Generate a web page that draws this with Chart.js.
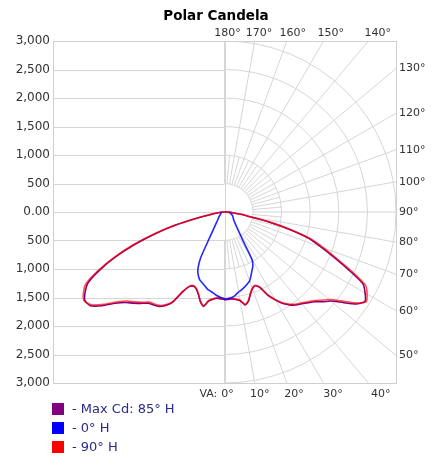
<!DOCTYPE html>
<html>
<head>
<meta charset="utf-8">
<script src="https://cdn.jsdelivr.net/npm/chart.js@4.4.1/dist/chart.umd.min.js"></script>
<style>
  html, body { margin: 0; padding: 0; background: #fff; }
</style>
</head>
<body>
<canvas id="polar" width="432" height="456"></canvas>
<script>
// vertical angles (deg, 0 = nadir)
const vAngles = [0, 2.5, 5, 7.5, 10, 12.5, 15, 17.5, 20, 22.5, 25, 27.5, 30, 32.5, 35, 37.5, 40, 42.5, 45,
  47.5, 50, 52.5, 55, 57.5, 60, 62.5, 65, 67.5, 70, 72.5, 75, 77.5, 80, 82.5, 85, 87.5, 90];

// candela, right half = plane named in legend, left half = opposite plane
const cdMax85 = [1540, 1535, 1530, 1550, 1580, 1670, 1620, 1510, 1430, 1400, 1460, 1650, 1785, 1905, 1990, 2055, 2100, 2160, 2225,
  2330, 2430, 2610, 2815, 2915, 2840, 2730, 2390, 2070, 1800, 1560, 1170, 785, 405, 265, 140, 50, 0];
const cdMax265 = [1530, 1525, 1520, 1545, 1585, 1695, 1630, 1520, 1440, 1410, 1440, 1575, 1835, 1950, 2020, 2050, 2090, 2175, 2260,
  2350, 2490, 2700, 2865, 2895, 2815, 2690, 2410, 2070, 1690, 1280, 885, 485, 230, 130, 60, 25, 0];
const cd0 = [1530, 1520, 1505, 1470, 1425, 1395, 1360, 1325, 1285, 1210, 1135, 1075, 960, 620, 470, 380, 320, 280, 250,
  225, 210, 195, 185, 178, 172, 165, 155, 145, 135, 125, 115, 108, 100, 95, 92, 90, 88];
const cd180 = [1525, 1500, 1475, 1440, 1410, 1385, 1340, 1300, 1265, 1200, 1100, 900, 520, 365, 280, 225, 190, 165, 150,
  135, 120, 110, 100, 92, 85, 80, 75, 70, 65, 62, 60, 58, 56, 55, 54, 53, 52];
const cd90 = [1530, 1525, 1520, 1540, 1570, 1660, 1610, 1500, 1420, 1390, 1450, 1640, 1770, 1890, 1975, 2040, 2085, 2140, 2200,
  2290, 2390, 2560, 2780, 2935, 2880, 2780, 2450, 2120, 1850, 1600, 1200, 800, 420, 280, 150, 60, 0];
const cd270 = [1520, 1515, 1510, 1535, 1575, 1685, 1620, 1510, 1430, 1400, 1430, 1560, 1820, 1930, 2000, 2030, 2065, 2150, 2230,
  2310, 2450, 2660, 2840, 2910, 2850, 2735, 2450, 2100, 1720, 1300, 900, 500, 240, 140, 70, 30, 0];

const seriesNames = ['- Max Cd: 85\u00b0 H', '- 0\u00b0 H', '- 90\u00b0 H'];
const seriesColors = ['#800080', '#0000ff', '#ff0000'];
const lineColors = ['#800080', 'rgba(0,0,255,0.85)', 'rgba(255,0,0,0.7)'];

const ringValues = [500, 1000, 1500, 2000, 2500, 3000];
const topAngles = [180, 170, 160, 150, 140];
const rightAngles = [130, 120, 110, 100, 90, 80, 70, 60, 50];
const bottomAngles = [0, 10, 20, 30, 40];

const gridColor = '#d6d6d6';
const angleFont = '11px "DejaVu Sans"';
const legendFont = '13px "DejaVu Sans"';

function polarPoints(left, right) {
  const pts = [];
  for (let i = vAngles.length - 1; i >= 0; i--) {
    const a = vAngles[i] * Math.PI / 180;
    pts.push({ x: -left[i] * Math.sin(a), y: -left[i] * Math.cos(a) });
  }
  for (let i = 0; i < vAngles.length; i++) {
    const a = vAngles[i] * Math.PI / 180;
    pts.push({ x: right[i] * Math.sin(a), y: -right[i] * Math.cos(a) });
  }
  return pts;
}

function geom(chart) {
  const x = chart.scales.x, y = chart.scales.y;
  const cx = x.getPixelForValue(0), cy = y.getPixelForValue(0);
  return {
    cx, cy,
    kx: (x.getPixelForValue(1000) - cx) / 1000,
    ky: (cy - y.getPixelForValue(1000)) / 1000
  };
}

const polarGrid = {
  id: 'polarGrid',
  beforeDatasetsDraw(chart) {
    const { ctx, chartArea: ca } = chart;
    const { cx, cy, kx, ky } = geom(chart);
    const yScale = chart.scales.y;
    ctx.save();
    ctx.beginPath();
    ctx.rect(ca.left, ca.top, ca.width, ca.height);
    ctx.clip();
    ctx.strokeStyle = gridColor;
    ctx.lineWidth = 1;

    ctx.beginPath();
    yScale.ticks.forEach(t => {
      const py = Math.round(yScale.getPixelForValue(t.value)) + 0.5;
      ctx.moveTo(ca.left, py);
      ctx.lineTo(cx, py);
    });
    ctx.moveTo(Math.round(cx) + 0.5, ca.top);
    ctx.lineTo(Math.round(cx) + 0.5, ca.bottom);
    ctx.stroke();

    ringValues.forEach(r => {
      ctx.beginPath();
      ctx.ellipse(cx, cy, r * kx, r * ky, 0, -Math.PI / 2, Math.PI / 2);
      ctx.stroke();
    });

    ctx.beginPath();
    for (let deg = 0; deg <= 180; deg += 5) {
      const a = deg * Math.PI / 180;
      const r1 = deg % 10 === 0 ? 6000 : 1000;
      ctx.moveTo(cx + 500 * kx * Math.sin(a), cy + 500 * ky * Math.cos(a));
      ctx.lineTo(cx + r1 * kx * Math.sin(a), cy + r1 * ky * Math.cos(a));
    }
    ctx.stroke();
    ctx.restore();

    ctx.save();
    ctx.strokeStyle = '#cfcfcf';
    ctx.strokeRect(Math.round(ca.left) + 0.5, Math.round(ca.top) + 0.5, Math.round(ca.width), Math.round(ca.height));
    ctx.restore();
  },
  afterDraw(chart) {
    const { ctx, chartArea: ca } = chart;
    const { cx, cy, kx, ky } = geom(chart);
    ctx.save();
    ctx.font = angleFont;
    ctx.fillStyle = '#333';
    ctx.textBaseline = 'middle';

    ctx.textAlign = 'center';
    const topY = ca.top - 7.5;
    topAngles.forEach(deg => {
      const a = deg * Math.PI / 180;
      const t = (topY - cy) / (Math.cos(a) * ky);
      ctx.fillText(deg + '\u00b0', cx + t * Math.sin(a) * kx + 3, topY);
    });

    const botY = ca.bottom + 11;
    bottomAngles.forEach(deg => {
      const a = deg * Math.PI / 180;
      const t = (botY - cy) / (Math.cos(a) * ky);
      const lx = cx + t * Math.sin(a) * kx + 3;
      ctx.textAlign = 'center';
      ctx.fillText(deg + '\u00b0', lx, botY);
      if (deg === 0) {
        const w = ctx.measureText(deg + '\u00b0').width;
        ctx.textAlign = 'right';
        ctx.fillText('VA:', lx - w / 2 - 4, botY);
      }
    });

    ctx.textAlign = 'left';
    rightAngles.forEach(deg => {
      const a = deg * Math.PI / 180;
      const t = (ca.right - cx) / (Math.sin(a) * kx);
      ctx.fillText(deg + '\u00b0', ca.right + 3, cy + t * Math.cos(a) * ky);
    });

    // legend
    ctx.font = legendFont;
    seriesNames.forEach((name, i) => {
      const rowY = 409 + i * 19;
      ctx.fillStyle = seriesColors[i];
      ctx.fillRect(52, rowY - 6, 12, 12);
      ctx.fillStyle = '#2a2a8c';
      ctx.textAlign = 'left';
      ctx.fillText(name, 72, rowY + 0.5);
    });
    ctx.restore();
  }
};

const datasets = [
  { label: seriesNames[0], data: polarPoints(cdMax265, cdMax85), borderColor: lineColors[0], order: 2 },
  { label: seriesNames[1], data: polarPoints(cd180, cd0), borderColor: lineColors[1], order: 0 },
  { label: seriesNames[2], data: polarPoints(cd270, cd90), borderColor: lineColors[2], order: 1 }
].map(ds => Object.assign(ds, {
  showLine: true, pointRadius: 0, borderWidth: 1.6, tension: 0.2, fill: false
}));

new Chart(document.getElementById('polar'), {
  type: 'scatter',
  data: { datasets },
  options: {
    responsive: false,
    animation: false,
    layout: { padding: { bottom: 73 } },
    scales: {
      x: { type: 'linear', min: -3000, max: 3000, display: false },
      y: {
        type: 'linear', min: -3000, max: 3000,
        grid: { display: false, drawTicks: false },
        border: { display: false },
        ticks: {
          stepSize: 500, autoSkip: false, padding: 3,
          color: '#333', font: { family: 'DejaVu Sans', size: 12 },
          callback: v => v === 0 ? '0.00' : Math.abs(v).toLocaleString('en-US')
        },
        afterFit(s) { s.width = 53; }
      },
      yR: {
        type: 'linear', position: 'right', min: 0, max: 1,
        grid: { display: false, drawTicks: false },
        border: { display: false },
        ticks: { display: false },
        afterFit(s) { s.width = 36; }
      }
    },
    plugins: {
      legend: { display: false },
      tooltip: { enabled: false },
      title: {
        display: true,
        text: 'Polar Candela',
        color: '#000',
        font: { family: 'DejaVu Sans', size: 13.5, weight: 'bold' },
        padding: { top: 8, bottom: 16.8 }
      }
    }
  },
  plugins: [polarGrid]
});
</script>
</body>
</html>
